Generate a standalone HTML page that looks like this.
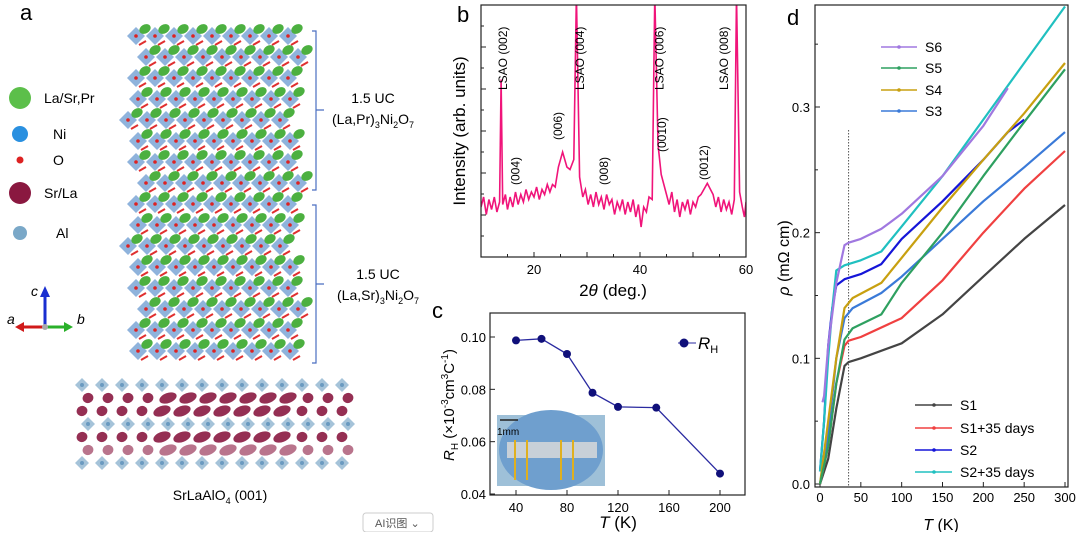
<!DOCTYPE html>
<html><head><meta charset="utf-8"><style>
body{margin:0;background:#fff;width:1080px;height:532px;overflow:hidden;font-family:"Liberation Sans","Noto Sans CJK SC",sans-serif}
svg text{font-family:"Liberation Sans","Noto Sans CJK SC",sans-serif}
</style></head><body>
<svg id="fig" width="1080" height="532" viewBox="0 0 1080 532">
<g id="pa">
<text x="20" y="20" font-size="22">a</text>
<g id="crystal"></g>
<g font-size="14">
<circle cx="20" cy="98" r="11" fill="#5cbf4a"/><text x="44" y="103">La/Sr,Pr</text>
<circle cx="20" cy="134" r="8" fill="#2a90e0"/><text x="53" y="139">Ni</text>
<circle cx="20" cy="160" r="3.5" fill="#d22"/><text x="53" y="165">O</text>
<circle cx="20" cy="193" r="11" fill="#8a1840"/><text x="44" y="198">Sr/La</text>
<circle cx="20" cy="233" r="7" fill="#7aa8c8"/><text x="56" y="238">Al</text>
</g>
<g>
<line x1="45" y1="327" x2="45" y2="295" stroke="#1a2fd0" stroke-width="3"/><polygon points="40,297 50,297 45,286" fill="#1a2fd0"/>
<line x1="45" y1="327" x2="22" y2="327" stroke="#d01a1a" stroke-width="3"/><polygon points="24,322 24,332 15,327" fill="#d01a1a"/>
<line x1="45" y1="327" x2="66" y2="327" stroke="#2ab02a" stroke-width="3"/><polygon points="64,322 64,332 73,327" fill="#2ab02a"/>
<circle cx="45" cy="327" r="3" fill="#aaa"/>
<text x="31" y="296" font-size="14" font-style="italic">c</text><text x="7" y="324" font-size="14" font-style="italic">a</text><text x="77" y="324" font-size="14" font-style="italic">b</text>
</g>
<g stroke="#4a6ec0" fill="none" stroke-width="1.2">
<path d="M312,31 h4 v159 h-4 M316,110 h8"/><path d="M312,205 h4 v158 h-4 M316,284 h8"/>
</g>
<g font-size="14" text-anchor="middle">
<text x="373" y="103">1.5 UC</text><text x="373" y="124">(La,Pr)<tspan font-size="9" dy="4">3</tspan><tspan dy="-4">Ni</tspan><tspan font-size="9" dy="4">2</tspan><tspan dy="-4">O</tspan><tspan font-size="9" dy="4">7</tspan></text>
<text x="378" y="279">1.5 UC</text><text x="378" y="300">(La,Sr)<tspan font-size="9" dy="4">3</tspan><tspan dy="-4">Ni</tspan><tspan font-size="9" dy="4">2</tspan><tspan dy="-4">O</tspan><tspan font-size="9" dy="4">7</tspan></text>
<text x="220" y="500">SrLaAlO<tspan font-size="9" dy="4">4</tspan><tspan dy="-4"> (001)</tspan></text>
</g>
<g><rect x="363" y="513" width="70" height="19" rx="3" fill="#fff" stroke="#ccc"/><text x="375" y="527" font-size="11" fill="#555">AI识图 ⌄</text></g>
</g>

<g id="pb"></g>
<g id="pc"></g>
<g id="pd"></g>
</svg>
<script>
// ---------- Panel b data ----------
const xrdTheta=[10,10.5,11,11.5,12,12.5,13,13.5,13.8,14.1,14.6,15,15.5,16,16.5,17,17.5,18,18.5,19,19.5,20,20.5,21,21.5,22,22.5,23,23.5,24,24.6,25.4,26.2,26.8,27.5,28,28.6,29.2,29.7,30.2,30.7,31.2,31.7,32.2,32.7,33.2,33.7,34.2,34.7,35.2,35.7,36.2,36.7,37.2,37.7,38.2,38.7,39.2,39.7,40.2,40.7,41.2,41.7,42.3,42.8,43.4,44,45,45.5,46,46.5,47,47.5,48,48.5,49,49.5,50,50.5,51,51.5,52.7,53.8,54.3,54.8,55.3,55.8,56.3,56.8,57.3,57.8,58.2,58.8,59.3,59.7,60];
const xrdInt=[2.0,2.4,1.7,2.3,1.9,2.4,1.8,2.2,7.1,2.1,2.5,1.9,2.4,2.0,2.6,2.1,2.5,2.2,2.7,2.3,2.6,2.4,2.8,2.3,2.7,2.5,2.9,2.6,2.9,2.8,3.6,4.2,3.6,3.5,3.9,10.5,3.2,2.4,2.7,2.1,2.5,2.0,2.6,2.1,2.4,1.9,2.5,2.1,2.3,1.7,2.2,1.9,2.3,1.7,2.2,1.8,2.3,1.6,2.1,1.2,2.0,1.8,2.4,2.3,10.5,4.5,3.3,2.5,2.1,2.6,1.8,2.3,1.6,2.2,1.9,2.3,1.7,2.2,2.0,2.4,2.5,2.95,2.5,2.0,2.4,1.8,2.3,1.9,2.2,1.7,2.3,10.5,2.6,2.0,1.6,2.2];
const xrdTicks=[20,40,60];
const xrdPeakLabels=[[14.9,"LSAO (002)",90],[17.3,"(004)",185],[25.3,"(006)",140],[29.4,"LSAO (004)",90],[34.0,"(008)",185],[44.4,"LSAO (006)",90],[44.9,"(0010)",152],[52.8,"(0012)",180],[56.6,"LSAO (008)",90]];
// ---------- Panel c data ----------
const hallT=[40,60,80,100,120,150,200];
const hallR=[0.0987,0.0993,0.0935,0.0787,0.0733,0.0730,0.0478];
const hallXTicks=[40,80,120,160,200];
const hallYTicks=[0.04,0.06,0.08,0.10];
// ---------- Panel d data ----------
const rhoNames=["S1","S1+35 days","S2","S2+35 days","S3","S4","S5","S6"];
const rhoColors=["#444","#f04040","#1515d8","#20c0c0","#3a7ad8","#c8a010","#2ea060","#a078e0"];
const rhoT=[
[0,10,20,30,35,50,100,150,200,250,300],
[0,10,20,30,35,50,100,150,200,250,300],
[0,5,10,15,20,30,50,75,100,150,200,230,250],
[0,5,10,15,20,30,50,75,100,150,200,250,300],
[0,10,20,30,40,75,100,150,200,250,300],
[0,10,20,30,40,75,100,150,200,250,300],
[0,10,20,30,40,75,100,150,200,250,300],
[3,5,10,20,30,35,50,75,100,150,200,230]];
const rhoV=[
[0,0.02,0.06,0.094,0.097,0.100,0.112,0.135,0.165,0.195,0.222],
[0,0.03,0.08,0.110,0.114,0.117,0.132,0.162,0.200,0.235,0.265],
[0.01,0.05,0.11,0.14,0.158,0.163,0.167,0.175,0.195,0.225,0.258,0.280,0.290],
[0.01,0.05,0.10,0.14,0.17,0.174,0.178,0.185,0.205,0.245,0.290,0.335,0.380],
[0,0.04,0.10,0.132,0.140,0.152,0.165,0.195,0.225,0.252,0.280],
[0,0.05,0.10,0.140,0.148,0.160,0.180,0.220,0.258,0.295,0.335],
[0,0.03,0.08,0.115,0.124,0.135,0.160,0.200,0.245,0.288,0.330],
[0.065,0.07,0.11,0.16,0.19,0.192,0.195,0.203,0.215,0.245,0.285,0.315]];
const rhoXTicks=[0,50,100,150,200,250,300];
const rhoYTicks=[0,0.1,0.2,0.3];

const NS="http://www.w3.org/2000/svg";
function mk(p,t,a,txt){const e=document.createElementNS(NS,t);for(const k in a)e.setAttribute(k,a[k]);if(txt!==undefined)e.textContent=txt;p.appendChild(e);return e;}

// ---------- crystal (decorative) ----------
const cr=document.getElementById('crystal');
for(let r=0;r<16;r++){const y=36+r*21;const off=(r%2)*10;const x0=(Math.floor(r/3)%2)?128:136;
 for(let c=0;c<9;c++){const x=x0+off+c*19;if(x>300)break;
  const d=mk(cr,'polygon',{points:`${x},${y-9} ${x+9},${y} ${x},${y+9} ${x-9},${y}`,fill:'#6a9ad0','fill-opacity':'0.75'});
  
  const g=mk(cr,'ellipse',{cx:x+9,cy:y-7,rx:6,ry:4.5,fill:'#4cb040',transform:`rotate(-30 ${x+9} ${y-7})`});
  
  mk(cr,'circle',{cx:x,cy:y,r:1.8,fill:'#d22'});mk(cr,'line',{x1:x+3,y1:y+9,x2:x+10,y2:y+5,stroke:'#e03030','stroke-width':2});
 }}
for(let r=0;r<7;r++){const y=385+r*13;const al=(r%3===0);
 for(let c=0;c<14;c++){const x=82+c*20+(r%2)*6;if(x>348)break;
  if(al){const d=mk(cr,'polygon',{points:`${x},${y-7} ${x+7},${y} ${x},${y+7} ${x-7},${y}`,fill:'#8fb4d0','fill-opacity':'0.8'});
   mk(cr,'circle',{cx:x,cy:y,r:2,fill:'#6a9ac0'});}
  else{const s=mk(cr,'ellipse',{cx:x,cy:y,rx:(c>3&&c<11)?9:5.5,ry:5,fill:'#8a1840','fill-opacity':r>4?0.6:0.9,transform:`rotate(-20 ${x} ${y})`});
   }
 }}

// ---------- panel b ----------
(function(){const g=document.getElementById('pb');
const L=481,R=746,T=5,B=257;const xs=v=>L+(v-10)*(R-L)/50, ys=v=>B-v*25;
mk(g,'text',{x:457,y:22,'font-size':22,},'b');
const cp=mk(g,'clipPath',{id:'cb'});mk(cp,'rect',{x:L,y:T,width:R-L,height:B-T});
let d='';xrdTheta.forEach((t,i)=>{d+=(i?'L':'M')+xs(t).toFixed(1)+','+ys(xrdInt[i]).toFixed(1);});
const p=mk(g,'path',{d,fill:'none',stroke:'#f0147a','stroke-width':1.6,'clip-path':'url(#cb)'});

const f=mk(g,'rect',{x:L,y:T,width:R-L,height:B-T,fill:'none',stroke:'#222','stroke-width':1.2});

for(let v=10;v<=60;v+=5){mk(g,'line',{x1:xs(v),y1:B,x2:xs(v),y2:B-(v%10?3:5),stroke:'#222'});}
for(let i=0;i<12;i++){const y=T+i*21;mk(g,'line',{x1:L,y1:y,x2:L+(i%2?3:5),y2:y,stroke:'#222'});}
xrdTicks.forEach(v=>{const t=mk(g,'text',{x:xs(v),y:B+17,'font-size':13,'text-anchor':'middle'},v);});
const xt=mk(g,'text',{x:613,y:296,'font-size':17,'text-anchor':'middle'});xt.innerHTML='2<tspan font-style="italic">θ</tspan> (deg.)';
const yt=mk(g,'text',{x:0,y:0,'font-size':17,'text-anchor':'middle',transform:'translate(465,131) rotate(-90)'},'Intensity (arb. units)');
xrdPeakLabels.forEach(([t,s,y])=>{const e=mk(g,'text',{x:0,y:0,'font-size':12,'text-anchor':'start',transform:`translate(${xs(t)},${y}) rotate(-90)`},s);});
})();

// ---------- panel c ----------
(function(){const g=document.getElementById('pc');
const L=490,R=745,T=313,B=495;const xs=v=>516+(v-40)*204/160, ys=v=>494-(v-0.04)*157/0.06;
mk(g,'text',{x:432,y:318,'font-size':22,},'c');
const im=mk(g,'g',{});
mk(im,'rect',{x:497,y:415,width:108,height:71,fill:'#9ec0d8'});
mk(im,'ellipse',{cx:551,cy:450,rx:52,ry:40,fill:'#6f9fce'});
mk(im,'rect',{x:507,y:442,width:90,height:16,fill:'#c8d0d8'});
[515,527,561,573].forEach(x=>mk(im,'line',{x1:x,y1:440,x2:x,y2:480,stroke:'#e0b020','stroke-width':2}));
mk(im,'line',{x1:500,y1:420,x2:518,y2:420,stroke:'#222','stroke-width':1.5});
mk(im,'text',{x:497,y:435,'font-size':10},'1mm');
const f=mk(g,'rect',{x:L,y:T,width:R-L,height:B-T,fill:'none',stroke:'#222','stroke-width':1.2});
hallXTicks.forEach(v=>{mk(g,'line',{x1:xs(v),y1:B,x2:xs(v),y2:B-5,stroke:'#222'});const t=mk(g,'text',{x:xs(v),y:B+17,'font-size':13,'text-anchor':'middle'},v);});
hallYTicks.forEach(v=>{mk(g,'line',{x1:L,y1:ys(v),x2:L+5,y2:ys(v),stroke:'#222'});const t=mk(g,'text',{x:L-4,y:ys(v)+5,'font-size':13,'text-anchor':'end'},v.toFixed(2));});
let d='';hallT.forEach((t,i)=>{d+=(i?'L':'M')+xs(t)+','+ys(hallR[i]);});
const ln=mk(g,'path',{d,fill:'none',stroke:'#2a2aa0','stroke-width':1.3});
hallT.forEach((t,i)=>{const c=mk(g,'circle',{cx:xs(t),cy:ys(hallR[i]),r:4,fill:'#10107a'});});
const lg=mk(g,'g',{});
mk(lg,'line',{x1:678,y1:343,x2:696,y2:343,stroke:'#2a2aa0'});mk(lg,'circle',{cx:684,cy:343,r:4.5,fill:'#10107a'});
const lt=mk(lg,'text',{x:698,y:349,'font-size':17,'font-style':'italic'});lt.innerHTML='R<tspan font-size="11" font-style="normal" dy="4">H</tspan>';
const xt=mk(g,'text',{x:618,y:528,'font-size':17,'text-anchor':'middle'});xt.innerHTML='<tspan font-style="italic">T</tspan> (K)';
const yt=mk(g,'text',{x:0,y:0,'font-size':15,'text-anchor':'middle',transform:'translate(454,405) rotate(-90)'});
yt.innerHTML='<tspan font-style="italic">R</tspan><tspan font-size="10" dy="4">H</tspan><tspan dy="-4"> (×10</tspan><tspan font-size="10" dy="-6">-3</tspan><tspan dy="6">cm</tspan><tspan font-size="10" dy="-6">3</tspan><tspan dy="6">C</tspan><tspan font-size="10" dy="-6">-1</tspan><tspan dy="6">)</tspan>';

})();

// ---------- panel d ----------
(function(){const g=document.getElementById('pd');
const L=815,R=1068,T=5,B=487;const xs=v=>820+v*245/300, ys=v=>484-v*377/0.3;
mk(g,'text',{x:787,y:25,'font-size':22,},'d');
const f=mk(g,'rect',{x:L,y:T,width:R-L,height:B-T,fill:'none',stroke:'#222','stroke-width':1.2});
rhoXTicks.forEach(v=>{mk(g,'line',{x1:xs(v),y1:B,x2:xs(v),y2:B-5,stroke:'#222'});const t=mk(g,'text',{x:xs(v),y:B+15,'font-size':13,'text-anchor':'middle'},v);});
rhoYTicks.forEach(v=>{mk(g,'line',{x1:L,y1:ys(v),x2:L+5,y2:ys(v),stroke:'#222'});const t=mk(g,'text',{x:L-5,y:ys(v)+5,'font-size':13,'text-anchor':'end'},v.toFixed(1));});
for(let v=0.05;v<0.4;v+=0.1)mk(g,'line',{x1:L,y1:ys(v),x2:L+3,y2:ys(v),stroke:'#222'});
const dl=mk(g,'line',{x1:xs(35),y1:130,x2:xs(35),y2:B,stroke:'#555','stroke-dasharray':'1.5,1.5'});
rhoNames.forEach((n,k)=>{let d='';rhoT[k].forEach((t,i)=>{d+=(i?'L':'M')+xs(t).toFixed(1)+','+ys(rhoV[k][i]).toFixed(1);});
 const p=mk(g,'path',{d,fill:'none',stroke:rhoColors[k],'stroke-width':2.2,'stroke-linejoin':'round'});
 
 });
const leg1=[7,6,5,4],y1=[47,68,90,111];
leg1.forEach((k,i)=>{const e=mk(g,'g',{});
 mk(e,'line',{x1:881,y1:y1[i],x2:917,y2:y1[i],stroke:rhoColors[k],'stroke-width':1.5});mk(e,'circle',{cx:899,cy:y1[i],r:1.8,fill:rhoColors[k]});
 mk(e,'text',{x:925,y:y1[i]+5,'font-size':14},rhoNames[k]);});
const y2=[405,428,450,472];
[0,1,2,3].forEach((k,i)=>{const e=mk(g,'g',{});
 mk(e,'line',{x1:915,y1:y2[i],x2:952,y2:y2[i],stroke:rhoColors[k],'stroke-width':1.5});mk(e,'circle',{cx:934,cy:y2[i],r:1.8,fill:rhoColors[k]});
 mk(e,'text',{x:960,y:y2[i]+5,'font-size':14},rhoNames[k]);});
const xt=mk(g,'text',{x:941,y:530,'font-size':16,'text-anchor':'middle'});xt.innerHTML='<tspan font-style="italic">T</tspan> (K)';
const yt=mk(g,'text',{x:0,y:0,'font-size':16,'text-anchor':'middle',transform:'translate(789,258) rotate(-90)'});yt.innerHTML='<tspan font-style="italic">ρ</tspan> (mΩ cm)';
})();
</script>
</body></html>
